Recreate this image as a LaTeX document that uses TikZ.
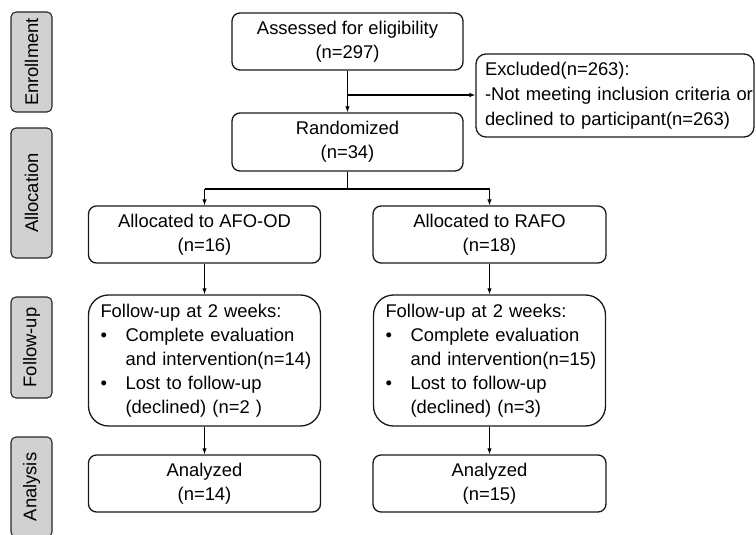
\documentclass[tikz,border=0pt]{standalone}
\usepackage{fontspec}
\setmainfont{Liberation Sans}
\usetikzlibrary{arrows.meta}
\begin{document}
\begin{tikzpicture}[x=1pt,y=-1pt,
  txt/.style={font=\fontsize{18.4}{24}\selectfont},
  box/.style={txt,draw=black!90,line width=1.3pt,rounded corners=8pt,align=center,inner sep=0pt},
  fubox/.style={txt,draw=black!90,line width=1.3pt,rounded corners=20pt,align=left,inner xsep=12pt,inner ysep=0pt,
     text width=208pt,minimum width=232pt,minimum height=131pt},
  side/.style={txt,draw=black!85,fill=black!18,line width=1.1pt,rounded corners=5pt,rotate=90,
     inner sep=0pt,minimum height=41pt},
  arr/.style={line width=1.1pt,-{Latex[length=6pt,width=4.5pt]}},
  ln/.style={line width=1.1pt}]
\useasboundingbox (0,0) rectangle (756,535);
% side labels
\node[side,minimum width=100pt] (senr) at (31.5,62) {Enrollment};
\node[side,minimum width=130pt] (salloc) at (31.5,193) {Allocation};
\node[side,minimum width=101pt] (sfu) at (31.5,347.5) {Follow-up};
\node[side,minimum width=100pt] (san) at (31.5,487) {Analysis};
% boxes
\node[box,minimum width=231pt,minimum height=57pt] (assess) at (347.5,41.5) {Assessed for eligibility\\(n=297)};
\node[box,minimum width=231pt,minimum height=58pt] (rand) at (347.5,142) {Randomized\\(n=34)};
\node[box,align=left,text width=278pt,inner xsep=0pt,minimum height=83pt,rounded corners=10pt] (excl) at (615,95.5)
  {\fontsize{18.4}{25}\selectfont\begin{tabular}{@{\hspace{9pt}}l@{}}
Excluded(n=263):\\
-Not meeting inclusion criteria or\\
declined to participant(n=263)
\end{tabular}};
\node[box,minimum width=232pt,minimum height=57pt] (afo) at (204.5,234.5) {Allocated to AFO-OD\\(n=16)};
\node[box,minimum width=233pt,minimum height=57pt] (rafo) at (489.5,234.5) {Allocated to RAFO\\(n=18)};
\node[fubox] (fu1) at (204.5,360.5) {\begin{tabular}{@{}l@{\hspace{18.6pt}}l@{}}
\multicolumn{2}{@{}l@{}}{Follow-up at 2 weeks:}\\
• & Complete evaluation\\
  & and intervention(n=14)\\
• & Lost to follow-up\\
  & (declined) (n=2 )
\end{tabular}};
\node[fubox] (fu2) at (489.5,360.5) {\begin{tabular}{@{}l@{\hspace{18.6pt}}l@{}}
\multicolumn{2}{@{}l@{}}{Follow-up at 2 weeks:}\\
• & Complete evaluation\\
  & and intervention(n=15)\\
• & Lost to follow-up\\
  & (declined) (n=3)
\end{tabular}};
\node[box,minimum width=232pt,minimum height=57pt] (an1) at (204.5,483.5) {Analyzed\\(n=14)};
\node[box,minimum width=233pt,minimum height=57pt] (an2) at (489.5,483.5) {Analyzed\\(n=15)};
% connectors
\coordinate (ex) at (347.5,95);
\coordinate (br) at (347.5,189);
\coordinate (brl) at (204.5,189);
\coordinate (brr) at (489.5,189);
\draw[arr] (assess.south) -- (rand.north);
\draw[arr] (ex) -- (ex -| excl.west);
\draw[ln] (rand.south) -- (br);
\draw[ln] (brl) -- (brr);
\draw[arr] (brl) -- (afo.north);
\draw[arr] (brr) -- (rafo.north);
\draw[arr] (afo.south) -- (fu1.north);
\draw[arr] (rafo.south) -- (fu2.north);
\draw[arr] (fu1.south) -- (an1.north);
\draw[arr] (fu2.south) -- (an2.north);
\end{tikzpicture}
\end{document}
